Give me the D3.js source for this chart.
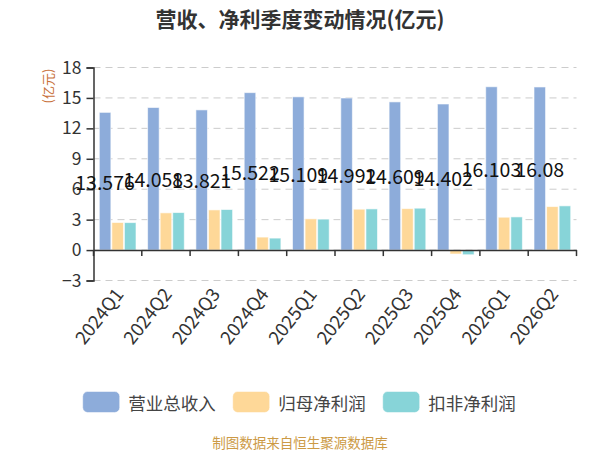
<!DOCTYPE html>
<html><head><meta charset="utf-8">
<script src="https://cdn.jsdelivr.net/npm/d3@7"></script>
<style>body{margin:0;background:#fff;} svg{display:block;font-family:"Noto Sans CJK SC","Noto Sans",sans-serif;}</style>
</head><body><svg id="c" width="600" height="450"></svg>
<script>
const categories = ["2024Q1","2024Q2","2024Q3","2024Q4","2025Q1","2025Q2","2025Q3","2025Q4","2026Q1","2026Q2"];
const seriesNames = ["营业总收入","归母净利润","扣非净利润"];
const revenue = [13.576,14.058,13.821,15.522,15.109,14.992,14.609,14.402,16.103,16.08];
const netProfit = [2.72,3.67,3.96,1.28,3.08,4.03,4.09,-0.39,3.24,4.29];
const deductedProfit = [2.71,3.70,4.00,1.18,3.05,4.06,4.13,-0.46,3.27,4.36];
const yTicks = [-3,0,3,6,9,12,15,18];
const colors = ["#8dacda","#fed898","#87d4d8"];
const title = "营收、净利季度变动情况(亿元)";
const yUnit = "(亿元)";
const footer = "制图数据来自恒生聚源数据库";

const series = [revenue, netProfit, deductedProfit];
const svg = d3.select("#c");
const L = 93.5, R = 576.5, T = 67.5, B = 280.5;
const y = d3.scaleLinear().domain([-3,18]).range([B,T]);
const x0 = d3.scaleBand().domain(categories).range([L,R]).padding(0);
const x1 = d3.scaleBand().domain(d3.range(3)).range([5.3, x0.bandwidth()-5.3]).padding(0);

// title
svg.append("text").attr("x",300).attr("y",27).attr("text-anchor","middle")
  .attr("font-size",21).attr("font-weight","bold").attr("fill","#333").text(title);

// grid
svg.append("g").selectAll("line").data(yTicks).join("line")
  .attr("x1",L).attr("x2",R).attr("y1",d=>y(d)).attr("y2",d=>y(d))
  .attr("stroke","#cccccc").attr("stroke-width",1).attr("stroke-dasharray","7,5");

// bars
const g = svg.append("g");
categories.forEach((c,i)=>{
  series.forEach((s,j)=>{
    const v = s[i];
    g.append("rect")
      .attr("x", x0(c)+x1(j)+0.5)
      .attr("width", x1.bandwidth()-1)
      .attr("y", y(Math.max(0,v)))
      .attr("height", Math.abs(y(v)-y(0)))
      .attr("fill", colors[j])
      .attr("stroke","#ffffff").attr("stroke-opacity",0.6).attr("stroke-width",1);
  });
});

// y axis
const yAxis = d3.axisLeft(y).tickValues(yTicks).tickSize(7).tickPadding(5);
const ya = svg.append("g").attr("transform",`translate(${L},0)`).call(yAxis);
ya.select(".domain").attr("stroke","#333").attr("stroke-width",1.5);
ya.selectAll(".tick line").attr("stroke","#333").attr("stroke-width",1.5);
ya.selectAll(".tick text").attr("font-size",17.5).attr("fill","#333").attr("font-family","'Noto Sans CJK SC',sans-serif");

// x axis at zero
const xAxis = d3.axisBottom(x0).tickSize(0).tickFormat("");
const xa = svg.append("g").attr("transform",`translate(0,${y(0)})`).call(xAxis);
xa.select(".domain").attr("stroke","#333").attr("stroke-width",1.5);
const bounds = categories.map(c=>x0(c)).concat([R]);
xa.selectAll("line.bt").data(bounds).join("line").attr("class","bt")
  .attr("x1",d=>d).attr("x2",d=>d).attr("y1",0).attr("y2",6)
  .attr("stroke","#333").attr("stroke-width",1.5);

// x labels
svg.append("g").selectAll("text").data(categories).join("text")
  .attr("transform",d=>`translate(${x0(d)+x0.bandwidth()/2+3},${B+11}) rotate(-52)`)
  .attr("text-anchor","end").attr("dominant-baseline","middle")
  .attr("font-size",18.5).attr("fill","#333").text(d=>d);

// value labels for revenue
svg.append("g").selectAll("text").data(categories).join("text")
  .attr("x",(d,i)=>x0(d)+x1(0)+x1.bandwidth()/2)
  .attr("y",(d,i)=>y(revenue[i]/2))
  .attr("text-anchor","middle").attr("dominant-baseline","central")
  .attr("font-size",19.5).attr("fill","#111").text((d,i)=>String(revenue[i]));

// y unit
svg.append("text").attr("transform","translate(47,86) rotate(-90)")
  .attr("text-anchor","middle").attr("dominant-baseline","central")
  .attr("font-size",13).attr("fill","#c8703a").text(yUnit);

// legend
const leg = svg.append("g");
seriesNames.forEach((n,j)=>{
  const lx = 82.7 + j*150;
  leg.append("rect").attr("x",lx).attr("y",391.5).attr("width",37).attr("height",21).attr("rx",5)
    .attr("fill",colors[j]).attr("stroke","#fff").attr("stroke-opacity",0.5);
  leg.append("text").attr("x",lx+45.5).attr("y",402).attr("dominant-baseline","central")
    .attr("font-size",17.5).attr("fill","#444").text(n);
});

// footer
svg.append("text").attr("x",300).attr("y",441.5).attr("text-anchor","middle").attr("dominant-baseline","central")
  .attr("font-size",13.5).attr("fill","#cc9a45").text(footer);
</script></body></html>
